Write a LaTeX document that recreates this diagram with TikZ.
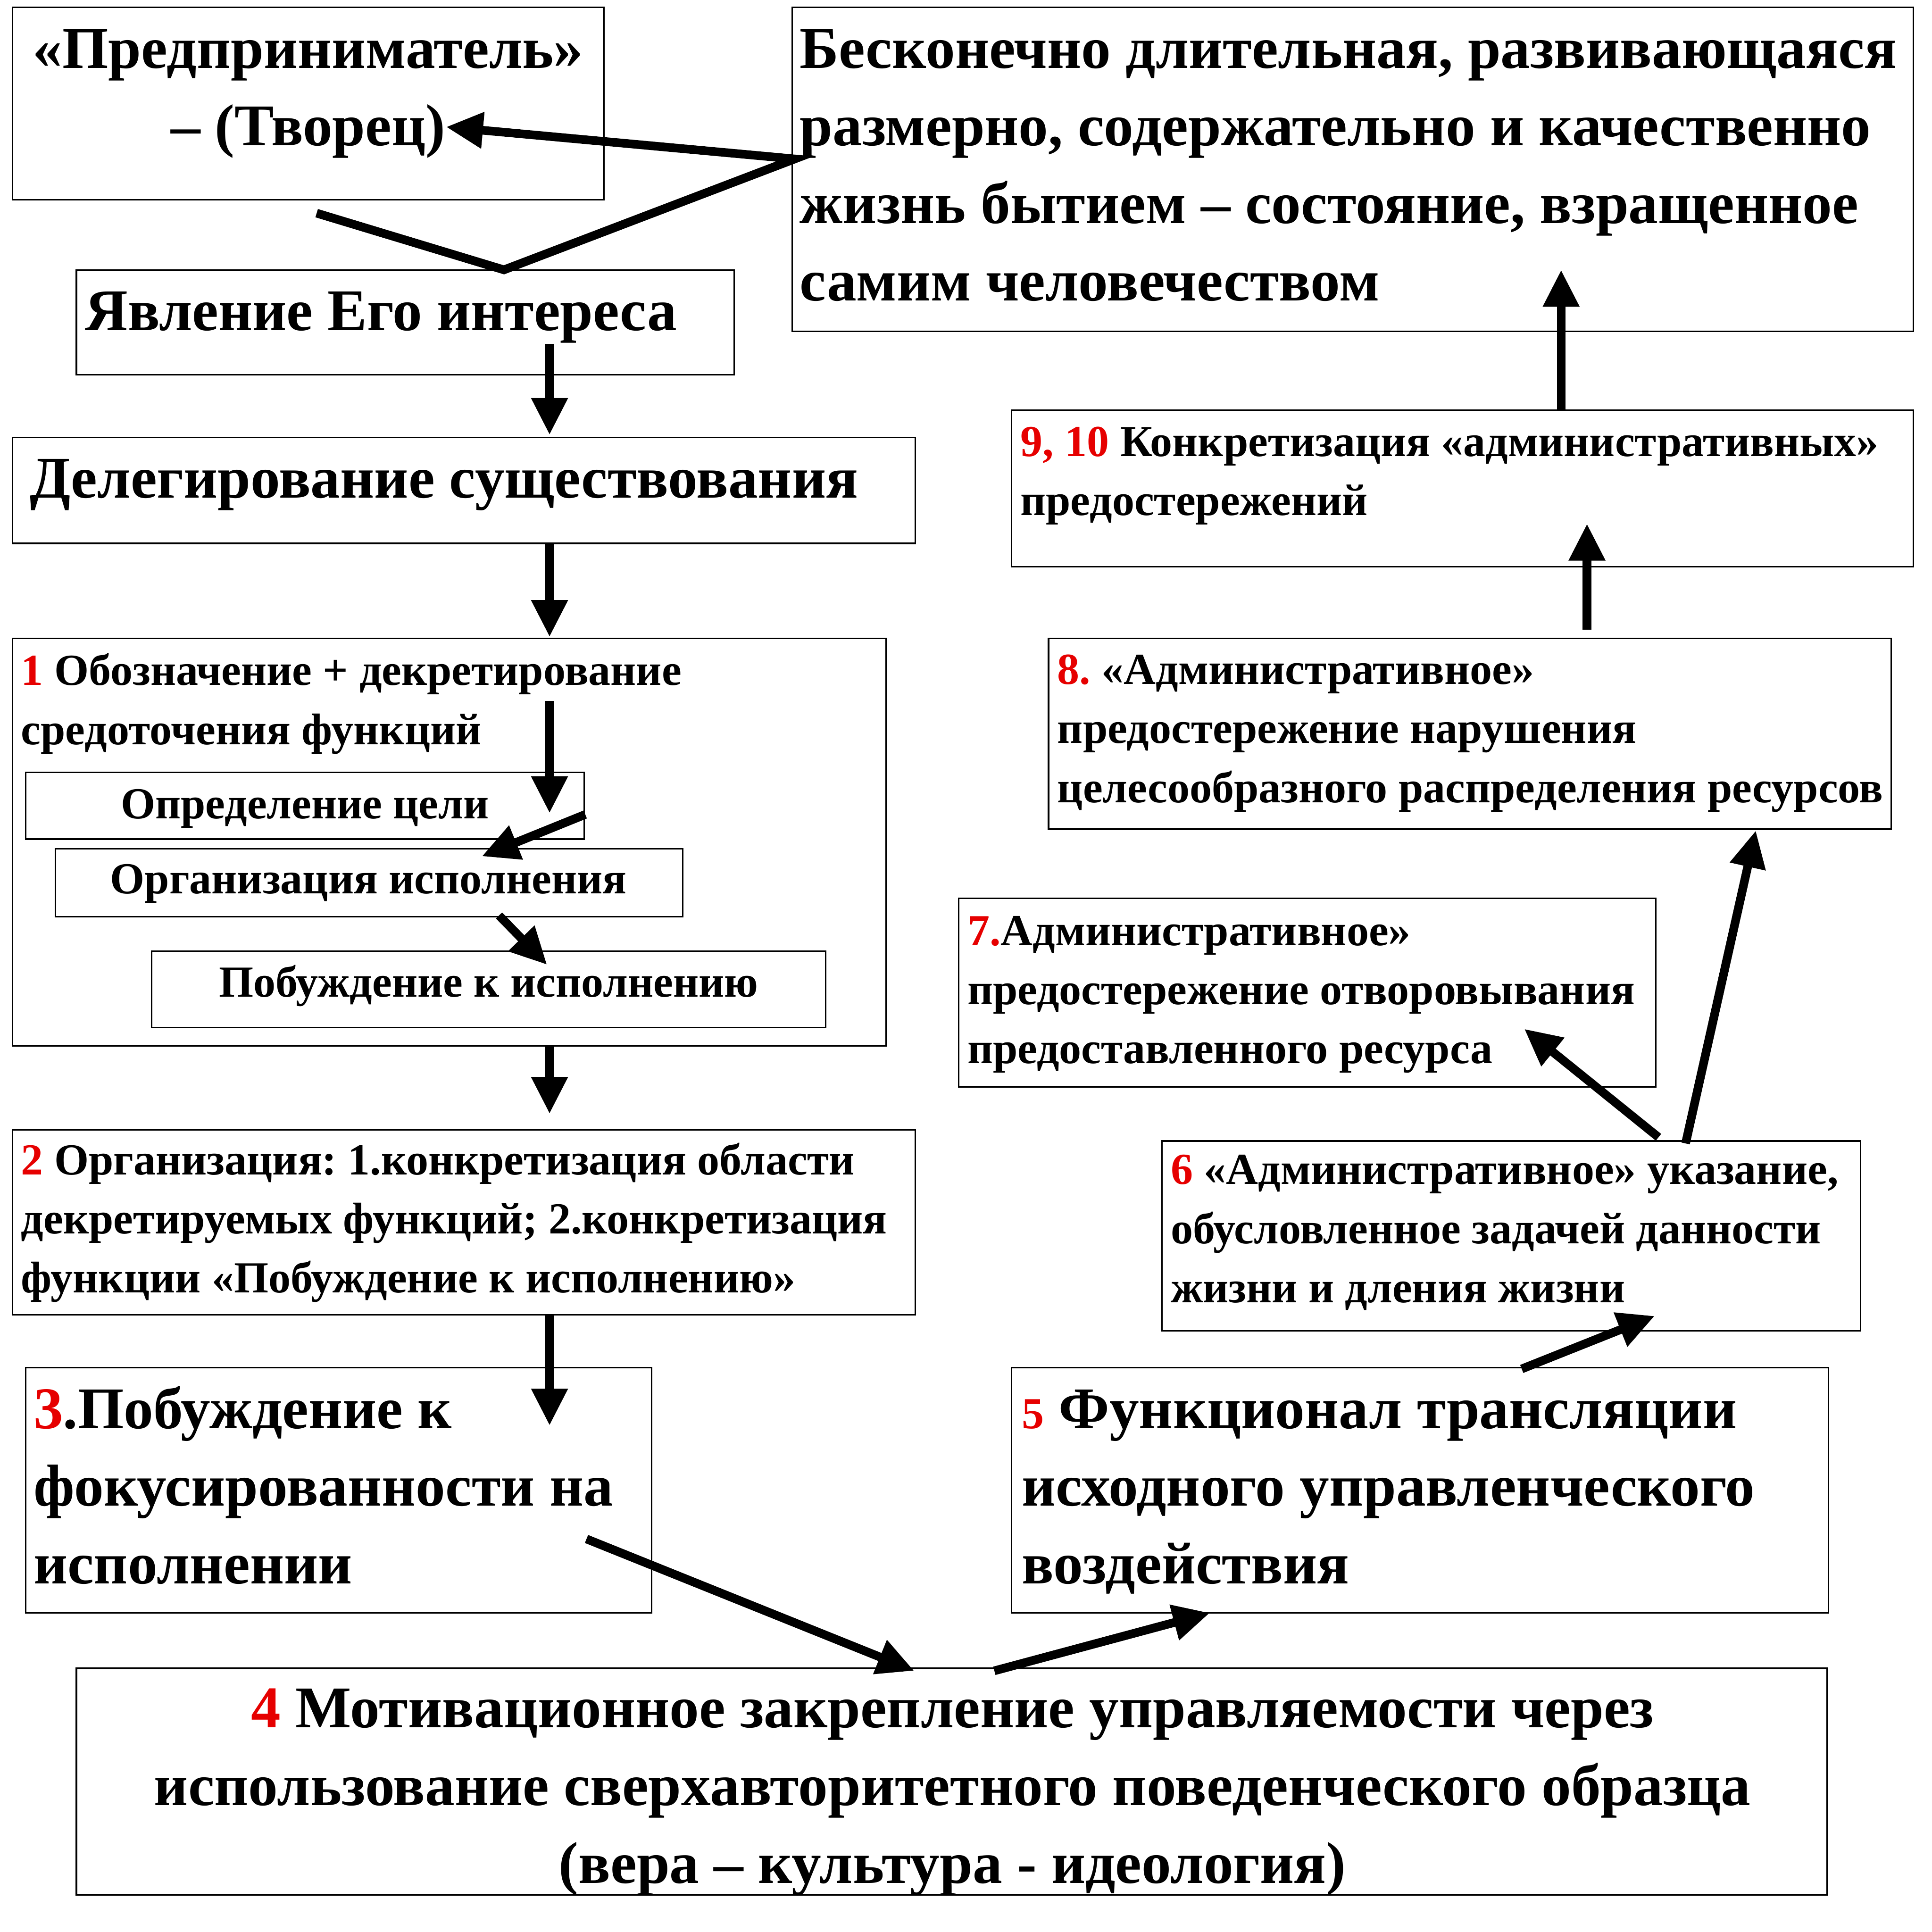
\documentclass[tikz,border=0pt]{standalone}
\usepackage{fontspec}
\setmainfont{Liberation Serif}
\usetikzlibrary{arrows.meta}
\frenchspacing
\definecolor{numred}{RGB}{230,0,0}
\newcommand{\R}[1]{\textcolor{numred}{#1}}
\newcommand{\bst}{\rule{0pt}{43.2pt}}
\newcommand{\mst}{\rule{0pt}{32.4pt}}
\tikzset{
  box/.style={draw=black, line width=1.2pt, anchor=north west, inner sep=0pt, outer sep=0pt},
  bigtxt/.style={inner sep=0pt, font=\fontsize{48}{63}\selectfont\bfseries},
  midtxt/.style={inner sep=0pt, font=\fontsize{36}{48}\selectfont\bfseries},
  lt/.style={anchor=north west, align=left},
  ct/.style={anchor=north, align=center},
  arr/.style={line width=7pt, line join=miter, -{Triangle[length=30pt,width=28pt]}},
}
\begin{document}
\begin{tikzpicture}[x=1pt,y=-1pt]
\useasboundingbox (0,0) rectangle (1568,1568);
% boxes
\node[box, minimum width=480pt, minimum height=156pt] (A) at (10,6) {};
\node[box, minimum width=910pt, minimum height=263pt] (B) at (643,6) {};
\node[box, minimum width=534pt, minimum height=85pt] (C) at (62,219) {};
\node[box, minimum width=733pt, minimum height=86pt] (D) at (10,355) {};
\node[box, minimum width=709pt, minimum height=331pt] (E) at (10,518) {};
\node[box, minimum width=453pt, minimum height=54pt] (E1) at (21,627) {};
\node[box, minimum width=509pt, minimum height=55pt] (E2) at (45,689) {};
\node[box, minimum width=547pt, minimum height=62pt] (E3) at (123,772) {};
\node[box, minimum width=733pt, minimum height=150pt] (F) at (10,917) {};
\node[box, minimum width=508pt, minimum height=199pt] (G) at (21,1110) {};
\node[box, minimum width=1421pt, minimum height=184pt] (H) at (62,1354) {};
\node[box, minimum width=663pt, minimum height=199pt] (I) at (821,1110) {};
\node[box, minimum width=567pt, minimum height=154pt] (J) at (943,926) {};
\node[box, minimum width=566pt, minimum height=153pt] (K) at (778,729) {};
\node[box, minimum width=684pt, minimum height=155pt] (L) at (851,518) {};
\node[box, minimum width=732pt, minimum height=127pt] (M) at (821,333) {};
% texts
\node[bigtxt, ct] (tA) at (250,11.8) {\bst«Предприниматель»\\– (Творец)};
\node[bigtxt, lt] (tB) at (649,11.8) {\bst Бесконечно длительная, развивающаяся\\размерно, содержательно и качественно\\жизнь бытием – состояние, взращенное\\самим человечеством};
\node[bigtxt, lt] (tC) at (69,224.8) {\bst Явление Его интереса};
\node[bigtxt, lt] (tD) at (24,360.8) {\bst Делегирование существования};
\node[midtxt, lt] (tE) at (17,523.6) {\mst\R{1} Обозначение + декретирование\\средоточения функций};
\node[midtxt, ct] (tE1) at (247.5,631.6) {\mst Определение цели};
\node[midtxt, ct] (tE2) at (299,692.6) {\mst Организация исполнения};
\node[midtxt, ct] (tE3) at (396.5,776.6) {\mst Побуждение к исполнению};
\node[midtxt, lt] (tF) at (17,920.6) {\mst\R{2} Организация: 1.конкретизация области\\декретируемых функций; 2.конкретизация\\функции «Побуждение к исполнению»};
\node[bigtxt, lt] (tG) at (27,1115.8) {\bst\R{3}.Побуждение к\\фокусированности на\\исполнении};
\node[bigtxt, ct] (tH) at (773,1358.8) {\bst\R{4} Мотивационное закрепление управляемости через\\использование сверхавторитетного поведенческого образца\\(вера – культура - идеология)};
\node[bigtxt, lt] (tI) at (829,1115.8) {\bst{\fontsize{36}{48}\selectfont\R{5}} Функционал трансляции\\исходного управленческого\\воздействия};
\node[midtxt, lt] (tJ) at (950,928.6) {\mst\R{6} «Административное» указание,\\обусловленное задачей данности\\жизни и дления жизни};
\node[midtxt, lt] (tK) at (785,734.6) {\mst\R{7.}Административное»\\предостережение отворовывания\\предоставленного ресурса};
\node[midtxt, lt] (tL) at (858,522.6) {\mst\R{8.} «Административное»\\предостережение нарушения\\целесообразного распределения ресурсов};
\node[midtxt, lt] (tM) at (828,337.6) {\mst\R{9, 10} Конкретизация «административных»\\предостережений};
% connector end points
\coordinate (v1) at (257,173);
\coordinate (v2) at (409,219);
\coordinate (v3) at (645,129);
\coordinate (v4) at (362,103);
\coordinate (c1) at (446,279);   \coordinate (c2) at (446,353);
\coordinate (d1) at (446,441);   \coordinate (d2) at (446,517);
\coordinate (e1) at (446,569);   \coordinate (e2) at (446,660);
\coordinate (e3) at (475,661);   \coordinate (e4) at (391,695);
\coordinate (e5) at (405,743);   \coordinate (e6) at (444,783);
\coordinate (f1) at (446,849);   \coordinate (f2) at (446,904);
\coordinate (g1) at (446,1067);  \coordinate (g2) at (446,1157);
\coordinate (h1) at (476,1249);  \coordinate (h2) at (742,1356);
\coordinate (i1) at (807,1356);  \coordinate (i2) at (982,1309);
\coordinate (j1) at (1235,1111); \coordinate (j2) at (1343,1068);
\coordinate (k1) at (1346,923);  \coordinate (k2) at (1237,835);
\coordinate (l1) at (1368,928);  \coordinate (l2) at (1425,674);
\coordinate (m1) at (1288,511);  \coordinate (m2) at (1288,425);
\coordinate (n1) at (1267,333);  \coordinate (n2) at (1267,219);
% connectors
\draw[arr] (v1) -- (v2) -- (v3) -- (v4);
\draw[arr] (c1) -- (c2);
\draw[arr] (d1) -- (d2);
\draw[arr] (e1) -- (e2);
\draw[arr] (e3) -- (e4);
\draw[arr] (e5) -- (e6);
\draw[arr] (f1) -- (f2);
\draw[arr] (g1) -- (g2);
\draw[arr] (h1) -- (h2);
\draw[arr] (i1) -- (i2);
\draw[arr] (j1) -- (j2);
\draw[arr] (k1) -- (k2);
\draw[arr] (l1) -- (l2);
\draw[arr] (m1) -- (m2);
\draw[arr] (n1) -- (n2);
\end{tikzpicture}
\end{document}
